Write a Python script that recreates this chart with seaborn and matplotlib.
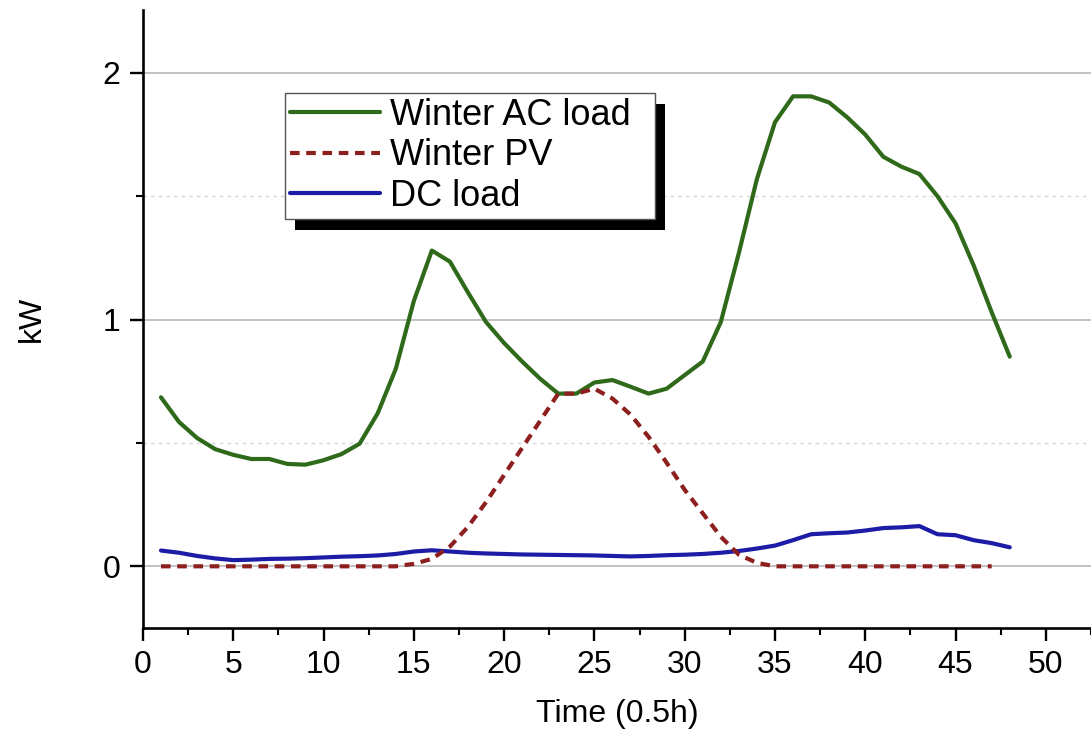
import numpy as np
import pandas as pd
import matplotlib
matplotlib.use('Agg')
import matplotlib.pyplot as plt
from matplotlib.patches import Rectangle
from matplotlib.transforms import IdentityTransform
from matplotlib.ticker import MultipleLocator
import seaborn as sns

# data (half-hour steps)
time = list(range(1, 49))
time_pv = list(range(1, 48))

ac_load = [0.685, 0.585, 0.52, 0.475, 0.452, 0.435, 0.435, 0.415, 0.412, 0.43,
           0.455, 0.497, 0.62, 0.80, 1.075, 1.28, 1.235, 1.11, 0.99, 0.905,
           0.83, 0.76, 0.70, 0.70, 0.745, 0.755, 0.728, 0.70, 0.72, 0.775,
           0.83, 0.99, 1.27, 1.57, 1.80, 1.905, 1.905, 1.88, 1.82, 1.75,
           1.66, 1.62, 1.59, 1.50, 1.39, 1.22, 1.03, 0.85]

pv = [0, 0, 0, 0, 0, 0, 0, 0, 0, 0,
      0, 0, 0, 0, 0.01, 0.03, 0.08, 0.16, 0.26, 0.37,
      0.48, 0.59, 0.70, 0.70, 0.72, 0.68, 0.615, 0.525, 0.42, 0.31,
      0.215, 0.12, 0.047, 0.014, 0, 0, 0, 0, 0, 0,
      0, 0, 0, 0, 0, 0, 0]

dc_load = [0.064, 0.055, 0.042, 0.032, 0.025, 0.027, 0.030, 0.031, 0.033, 0.036,
           0.039, 0.041, 0.044, 0.05, 0.06, 0.065, 0.06, 0.055, 0.052, 0.05,
           0.048, 0.047, 0.046, 0.045, 0.044, 0.042, 0.040, 0.042, 0.045, 0.047,
           0.05, 0.055, 0.062, 0.072, 0.084, 0.106, 0.13, 0.134, 0.137, 0.145,
           0.155, 0.158, 0.163, 0.13, 0.126, 0.106, 0.094, 0.077]

labels = ['Winter AC load', 'Winter PV', 'DC load']
colors = ['#2e6a1a', '#8e1f1f', '#1c1ca6']

sns.set_style('white')
plt.rcParams['font.family'] = ['Liberation Sans', 'DejaVu Sans']
plt.rcParams['text.color'] = 'black'
plt.rcParams['axes.labelcolor'] = 'black'

fig = plt.figure(figsize=(10.91, 7.35), dpi=100)
ax = fig.add_axes([0.131, 0.1456, 0.869, 0.8408])

sns.lineplot(x=time, y=ac_load, ax=ax, color=colors[0], lw=3.0, zorder=3)
sns.lineplot(x=time, y=dc_load, ax=ax, color=colors[2], lw=3.0, zorder=3)
sns.lineplot(x=time_pv, y=pv, ax=ax, color=colors[1], lw=3.0,
             linestyle=(0, (2.3, 1.6)), zorder=4)
lines = ax.get_lines()
handles = [lines[0], lines[2], lines[1]]

ax.set_xlim(0, 52.5)
ax.set_ylim(-0.25, 2.255)
ax.xaxis.set_major_locator(MultipleLocator(5))
ax.xaxis.set_minor_locator(MultipleLocator(2.5))
ax.yaxis.set_major_locator(MultipleLocator(1))
ax.yaxis.set_minor_locator(MultipleLocator(0.5))

ax.grid(which='major', axis='y', color='#bdbdbd', lw=1.3, ls='-', zorder=0)
ax.grid(which='minor', axis='y', color='#d6d6d6', lw=1.0, ls=(0, (2.5, 3)), zorder=0)
ax.set_axisbelow(True)

for s in ['top', 'right']:
    ax.spines[s].set_visible(False)
for s in ['left', 'bottom']:
    ax.spines[s].set_color('black')
    ax.spines[s].set_linewidth(1.9)

ax.tick_params(which='major', direction='out', length=9.5, width=1.7, colors='black',
               labelsize=23, left=True, bottom=True)
ax.tick_params(axis='x', which='major', pad=6)
ax.tick_params(axis='y', which='major', pad=7)
ax.tick_params(which='minor', direction='out', length=5, width=1.5, colors='black',
               left=True, bottom=True)

ax.set_xlabel('Time (0.5h)', fontsize=23, labelpad=14)
ax.set_ylabel('kW', fontsize=23, labelpad=40)

leg = ax.legend(handles, labels, loc='upper left', bbox_to_anchor=(0.1498, 0.866, 0.39, 0.0),
                mode='expand', borderaxespad=0, fontsize=26, frameon=True, fancybox=False,
                handlelength=2.5, handletextpad=0.28, labelspacing=0.16,
                borderpad=0.13, framealpha=1)
leg.get_frame().set_edgecolor('#555555')
leg.get_frame().set_linewidth(1.0)
leg.set_zorder(6)

# hard black drop shadow behind the legend box
fig.canvas.draw()
bb = leg.get_window_extent()
shadow = Rectangle((bb.x0 + 10, bb.y0 - 11), bb.width, bb.height, transform=IdentityTransform(),
                   facecolor='black', edgecolor='none', zorder=5.5, clip_on=False)
ax.add_artist(shadow)

fig.savefig('out.png', dpi=100)
